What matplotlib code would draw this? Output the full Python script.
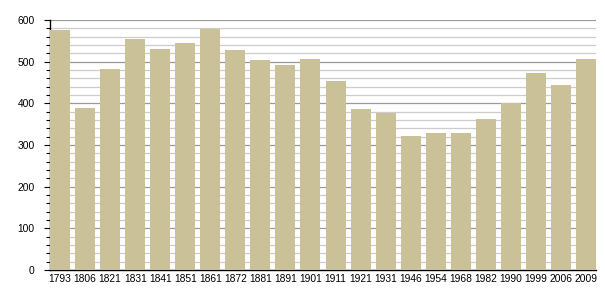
import numpy as np
import matplotlib
matplotlib.use('Agg')
import matplotlib.pyplot as plt
from matplotlib.ticker import MultipleLocator

years = ['1793', '1806', '1821', '1831', '1841', '1851', '1861', '1872', '1881', '1891', '1901',
         '1911', '1921', '1931', '1946', '1954', '1968', '1982', '1990', '1999', '2006', '2009']
population = [577, 389, 482, 554, 530, 545, 578, 528, 504, 492, 506,
              454, 386, 378, 322, 329, 329, 363, 401, 474, 444, 506]

BAR_COLOR = '#cbc198'
W = 0.8

plt.rcParams['font.family'] = ['Liberation Sans', 'DejaVu Sans']
plt.rcParams['font.size'] = 7.4

fig = plt.figure(figsize=(6.05, 3.0), dpi=100)
ax = fig.add_axes([50 / 605, 30 / 300, 546 / 605, 250 / 300])

x = np.arange(len(years))
ax.bar(x, population, width=W, color=BAR_COLOR, zorder=3)

ax.set_xlim(-W / 2, len(years) - 1 + W / 2)
ax.set_ylim(0, 600)
ax.yaxis.set_major_locator(MultipleLocator(100))
ax.yaxis.set_minor_locator(MultipleLocator(20))
ax.grid(axis='y', which='major', color='#999999', lw=0.9, zorder=1)
ax.grid(axis='y', which='minor', color='#cccccc', lw=0.9, zorder=0)

ax.set_xticks(x)
ax.set_xticklabels(years)
ax.tick_params(axis='x', length=0, pad=3)
ax.tick_params(axis='y', which='major', length=4, width=0.8, pad=7)
ax.tick_params(axis='y', which='minor', length=3, width=0.8)

for s in ['top', 'right']:
    ax.spines[s].set_visible(False)
ax.spines['left'].set_linewidth(1)
ax.spines['bottom'].set_linewidth(1)
ax.set_axisbelow(True)

fig.savefig('out.png', dpi=100)
